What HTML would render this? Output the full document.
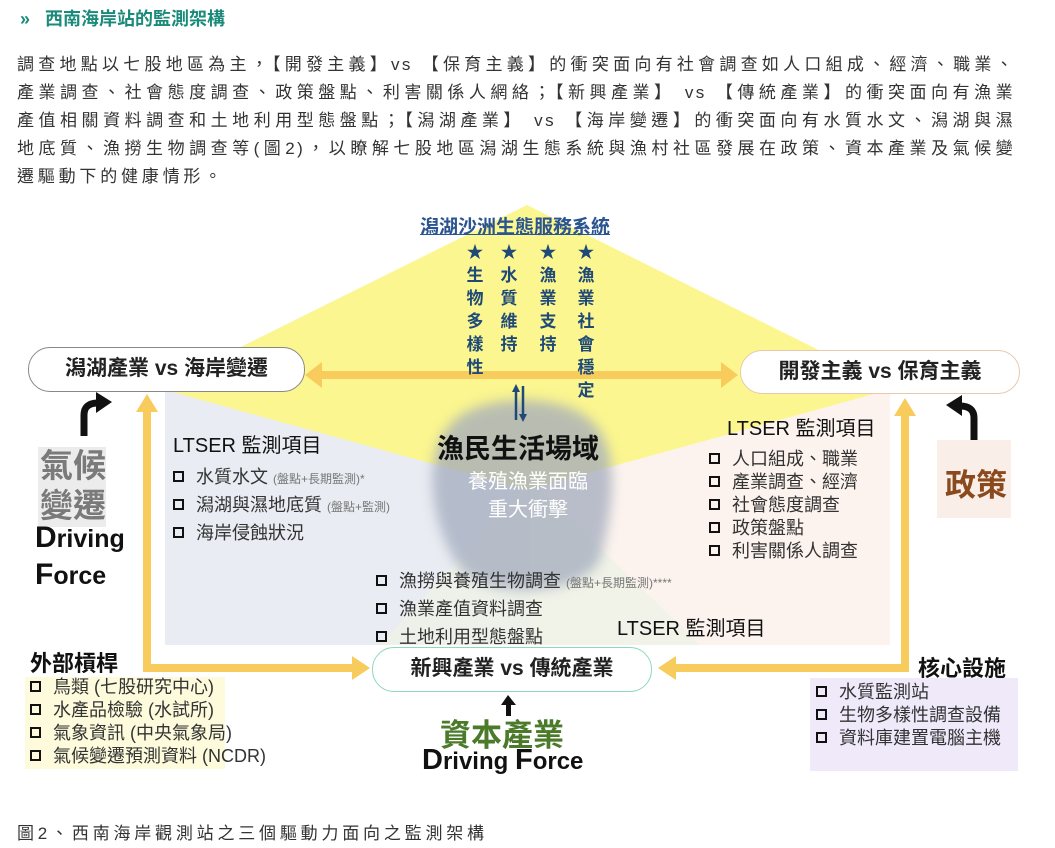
<!DOCTYPE html>
<html><head><meta charset="utf-8"><style>
*{margin:0;padding:0;box-sizing:border-box}
body{width:1055px;height:848px;background:#fff;position:relative;overflow:hidden;font-family:"Liberation Sans","Noto Sans CJK TC",sans-serif;color:#333}
.a{position:absolute;white-space:nowrap}
.p{position:absolute;left:17px;width:998px;font-size:17px;letter-spacing:2.4px;text-align:justify;text-align-last:justify;color:#333;white-space:nowrap}
.cb{display:inline-block;width:11px;height:11px;border:2.3px solid #111;margin-right:12px;vertical-align:1px}
.it{font-size:18px;color:#333}
.sm{font-size:12px;color:#777}
.lt{font-size:20px;color:#111}
.vc{position:absolute;width:20px;font-size:17px;font-weight:bold;color:#1f4a78;line-height:23px;text-align:center}
</style></head><body>
<div class="a" style="left:20px;top:5px;font-size:18px;font-weight:bold;color:#1a8a7a">»&nbsp;&nbsp; 西南海岸站的監測架構</div>
<div class="p" style="top:50px">調查地點以七股地區為主，【開發主義】vs 【保育主義】的衝突面向有社會調查如人口組成、經濟、職業、</div>
<div class="p" style="top:78px">產業調查、社會態度調查、政策盤點、利害關係人網絡；【新興產業】 vs 【傳統產業】的衝突面向有漁業</div>
<div class="p" style="top:106px">產值相關資料調查和土地利用型態盤點；【潟湖產業】 vs 【海岸變遷】的衝突面向有水質水文、潟湖與濕</div>
<div class="p" style="top:134px">地底質、漁撈生物調查等(圖2)，以瞭解七股地區潟湖生態系統與漁村社區發展在政策、資本產業及氣候變</div>
<div class="a" style="left:17px;top:162px;font-size:17px;letter-spacing:3.8px">遷驅動下的健康情形。</div>

<svg class="a" style="left:0;top:0" width="1055" height="848">
<defs><filter id="b"><feGaussianBlur stdDeviation="6"/></filter></defs>
<rect x="165" y="392" width="365" height="253" fill="#e9ecf2"/>
<rect x="530" y="392" width="360" height="253" fill="#fcf3ee"/>
<polygon points="380,645 530,480 700,645" fill="#eef3e6" opacity="0.8"/>
<polygon points="527,205 895,388 527,490 158,388" fill="#fbf68f"/>
<path d="M455,420 C480,395 560,392 590,420 C625,450 610,520 600,560 C580,600 470,600 455,560 C430,520 420,450 455,420Z" fill="#a3abbd" opacity="0.75" filter="url(#b)"/>
<g fill="#f7cc5c" stroke="none">
<rect x="320" y="371" width="405" height="8"/>
<polygon points="305,375 322,362 322,388"/>
<polygon points="738,375 721,362 721,388"/>
<rect x="143" y="410" width="8" height="262"/>
<polygon points="147,394 136,412 158,412"/>
<rect x="143" y="664" width="212" height="8"/>
<polygon points="370,668 352,656 352,680"/>
<rect x="901" y="415" width="8" height="257"/>
<polygon points="905,398 894,416 916,416"/>
<rect x="675" y="664" width="234" height="8"/>
<polygon points="658,668 676,656 676,680"/>
</g>
<path d="M84,436 L84,415 Q84,403 98,403" stroke="#111" stroke-width="7" fill="none"/>
<polygon points="112,402 96,392 96,413" fill="#111"/>
<path d="M974,441 L974,418 Q974,406 960,406" stroke="#111" stroke-width="7" fill="none"/>
<polygon points="946,405 962,395 962,416" fill="#111"/>
<g stroke="#1f4a78" stroke-width="2.5" fill="#1f4a78">
<line x1="516" y1="390" x2="516" y2="420"/><polygon points="516,384 512,392 520,392" stroke="none"/>
<line x1="523" y1="386" x2="523" y2="416"/><polygon points="523,422 519,414 527,414" stroke="none"/>
</g>
<rect x="506" y="702" width="5" height="14" fill="#111"/><polygon points="508,695 501,705 516,705" fill="#111"/>
<rect x="38" y="447" width="68" height="80" fill="#e4e4e4" opacity="0.7"/>
<rect x="937" y="440" width="74" height="78" fill="#faeee8"/>
<rect x="25" y="677" width="200" height="92" fill="#fdfbdc"/>
<rect x="810" y="678" width="208" height="93" fill="#efe9fa"/>
</svg>

<div class="a" style="left:420px;top:212px;font-size:19px;font-weight:bold;color:#2a5590;text-decoration:underline">潟湖沙洲生態服務系統</div>
<div class="vc" style="left:465px;top:241px">★<br>生<br>物<br>多<br>樣<br>性</div>
<div class="vc" style="left:499px;top:241px">★<br>水<br>質<br>維<br>持</div>
<div class="vc" style="left:538px;top:241px">★<br>漁<br>業<br>支<br>持</div>
<div class="vc" style="left:576px;top:241px">★<br>漁<br>業<br>社<br>會<br>穩<br>定</div>

<div class="a" style="left:28px;top:347px;width:277px;height:45px;border:1.5px solid #888;border-radius:22px;background:#fff;font-size:21px;font-weight:bold;color:#222;text-align:center;line-height:42px">潟湖產業 vs 海岸變遷</div>
<div class="a" style="left:740px;top:350px;width:280px;height:44px;border:1.5px solid #e8c8b0;border-radius:22px;background:#fff;font-size:21px;font-weight:bold;color:#222;text-align:center;line-height:41px">開發主義 vs 保育主義</div>

<div class="a" style="left:437px;top:427px;font-size:27px;font-weight:bold;color:#111">漁民生活場域</div>
<div class="a" style="left:458px;top:468px;font-size:20px;color:#fff;text-align:center;line-height:28px;width:140px">養殖漁業面臨<br>重大衝擊</div>

<div class="a lt" style="left:173px;top:429px">LTSER 監測項目</div>
<div class="a it" style="left:173px;top:463px"><span class="cb"></span>水質水文 <span class="sm">(盤點+長期監測)*</span></div>
<div class="a it" style="left:173px;top:491px"><span class="cb"></span>潟湖與濕地底質 <span class="sm">(盤點+監測)</span></div>
<div class="a it" style="left:173px;top:519px"><span class="cb"></span>海岸侵蝕狀況</div>

<div class="a" style="left:40px;top:446px;font-size:33px;font-weight:bold;color:#7a7a7a;line-height:40px">氣候<br>變遷</div>
<div class="a" style="left:35px;top:520px;font-size:25px;font-weight:bold;color:#111;line-height:35px"><span style="font-size:30px">D</span>riving<br><span style="font-size:30px">F</span>orce</div>

<div class="a lt" style="left:727px;top:412px">LTSER 監測項目</div>
<div class="a it" style="left:709px;top:448px;line-height:23px"><span class="cb"></span>人口組成、職業<br><span class="cb"></span>產業調查、經濟<br><span class="cb"></span>社會態度調查<br><span class="cb"></span>政策盤點<br><span class="cb"></span>利害關係人調查</div>
<div class="a" style="left:945px;top:460px;font-size:31px;font-weight:bold;color:#8a4a1e">政策</div>

<div class="a it" style="left:376px;top:567px"><span class="cb"></span>漁撈與養殖生物調查 <span class="sm">(盤點+長期監測)****</span></div>
<div class="a it" style="left:376px;top:595px"><span class="cb"></span>漁業產值資料調查</div>
<div class="a it" style="left:376px;top:623px"><span class="cb"></span>土地利用型態盤點</div>
<div class="a lt" style="left:617px;top:612px">LTSER 監測項目</div>

<div class="a" style="left:372px;top:647px;width:280px;height:45px;border:1.5px solid #8fd8b8;border-radius:22px;background:#fff;font-size:21px;font-weight:bold;color:#222;text-align:center;line-height:42px">新興產業 vs 傳統產業</div>

<div class="a" style="left:440px;top:710px;font-size:31px;font-weight:bold;color:#4a7a2a">資本產業</div>
<div class="a" style="left:422px;top:744px;font-size:24px;font-weight:bold;color:#111"><span style="font-size:29px">D</span>riving <span style="font-size:29px">F</span>orce</div>

<div class="a" style="left:30px;top:646px;font-size:22px;font-weight:bold;color:#111">外部槓桿</div>
<div class="a it" style="left:30px;top:676px;line-height:23px"><span class="cb"></span>鳥類 (七股研究中心)<br><span class="cb"></span>水產品檢驗 (水試所)<br><span class="cb"></span>氣象資訊 (中央氣象局)<br><span class="cb"></span>氣候變遷預測資料 (NCDR)</div>

<div class="a" style="left:918px;top:651px;font-size:22px;font-weight:bold;color:#111">核心設施</div>
<div class="a it" style="left:816px;top:681px;line-height:23px"><span class="cb"></span>水質監測站<br><span class="cb"></span>生物多樣性調查設備<br><span class="cb"></span>資料庫建置電腦主機</div>

<div class="a" style="left:17px;top:819px;font-size:17px;letter-spacing:3.8px;color:#333">圖2、西南海岸觀測站之三個驅動力面向之監測架構</div>
</body></html>
